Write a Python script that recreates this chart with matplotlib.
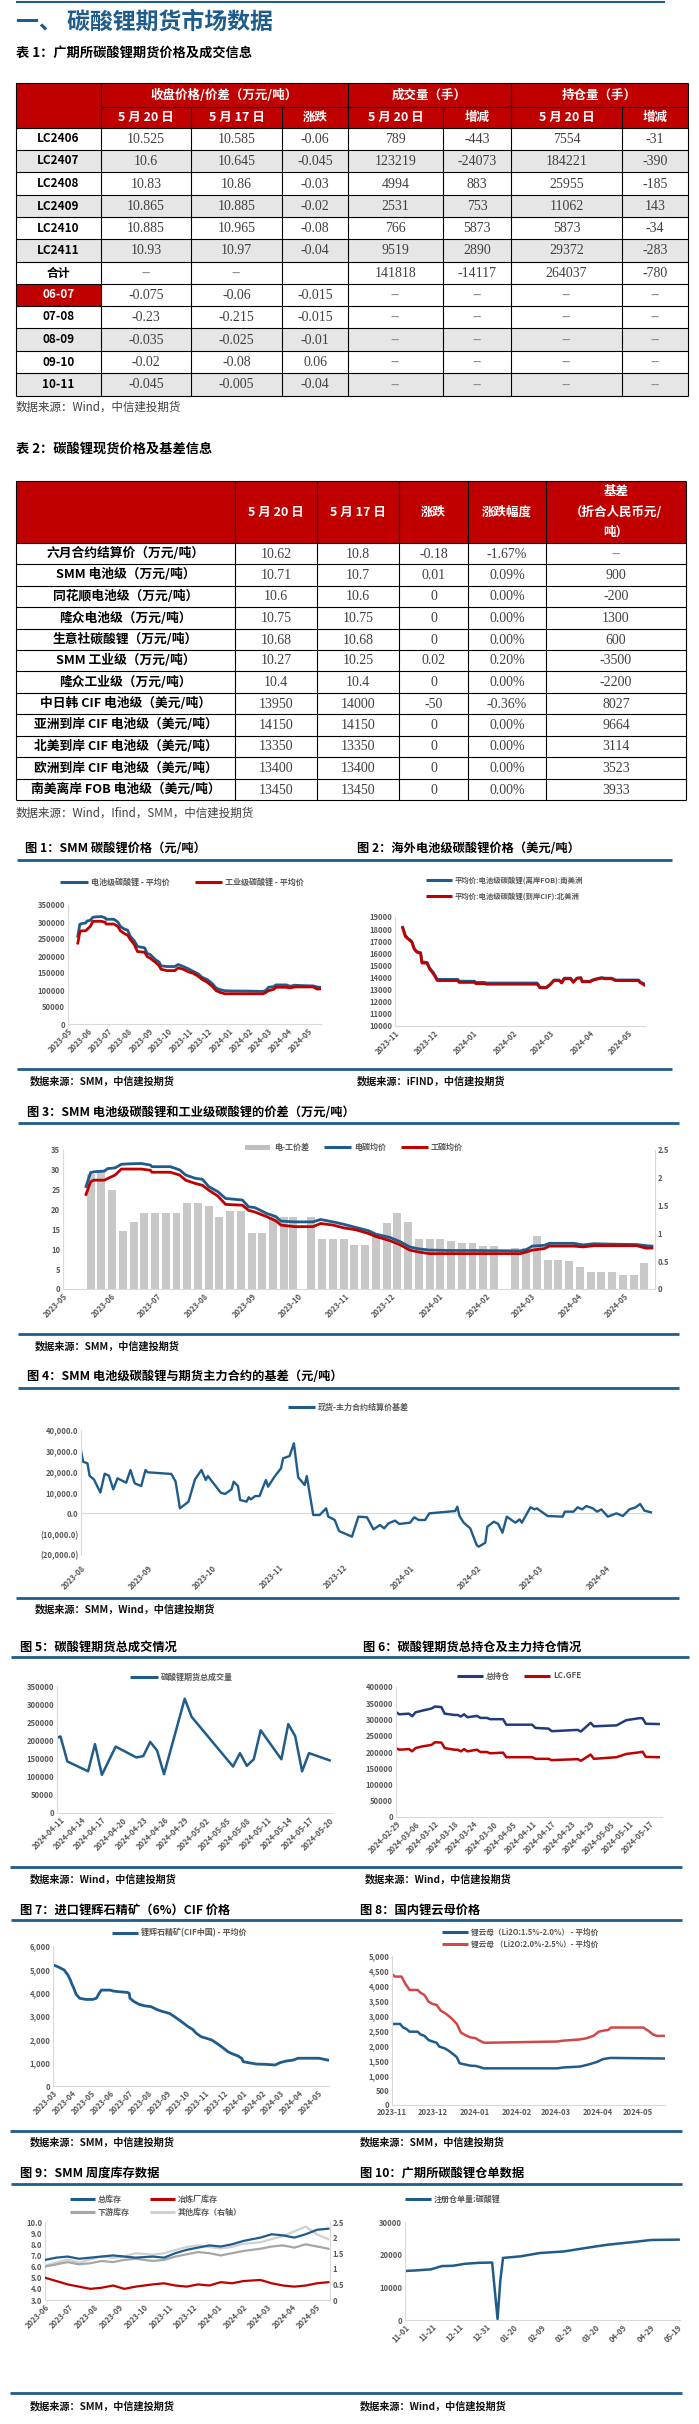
import numpy as np
import matplotlib
matplotlib.use('Agg')
import matplotlib.pyplot as plt
from matplotlib.patches import Rectangle

plt.rcParams['font.family'] = ['Noto Sans CJK SC', 'DejaVu Sans']
plt.rcParams['axes.unicode_minus'] = False

# ---------------------------------------------------------------- data
# Table 1
t1_labels = ['LC2406', 'LC2407', 'LC2408', 'LC2409', 'LC2410', 'LC2411', '合计',
             '06-07', '07-08', '08-09', '09-10', '10-11']
t1_close_0520 = ['10.525', '10.6', '10.83', '10.865', '10.885', '10.93', '--',
                 '-0.075', '-0.23', '-0.035', '-0.02', '-0.045']
t1_close_0517 = ['10.585', '10.645', '10.86', '10.885', '10.965', '10.97', '--',
                 '-0.06', '-0.215', '-0.025', '-0.08', '-0.005']
t1_change = ['-0.06', '-0.045', '-0.03', '-0.02', '-0.08', '-0.04', '',
             '-0.015', '-0.015', '-0.01', '0.06', '-0.04']
t1_volume = ['789', '123219', '4994', '2531', '766', '9519', '141818', '--', '--', '--', '--', '--']
t1_volume_chg = ['-443', '-24073', '883', '753', '5873', '2890', '-14117', '--', '--', '--', '--', '--']
t1_oi = ['7554', '184221', '25955', '11062', '5873', '29372', '264037', '--', '--', '--', '--', '--']
t1_oi_chg = ['-31', '-390', '-185', '143', '-34', '-283', '-780', '--', '--', '--', '--', '--']

# Table 2
t2_labels = ['六月合约结算价（万元/吨）', 'SMM 电池级（万元/吨）', '同花顺电池级（万元/吨）',
             '隆众电池级（万元/吨）', '生意社碳酸锂（万元/吨）', 'SMM 工业级（万元/吨）',
             '隆众工业级（万元/吨）', '中日韩 CIF 电池级（美元/吨）', '亚洲到岸 CIF 电池级（美元/吨）',
             '北美到岸 CIF 电池级（美元/吨）', '欧洲到岸 CIF 电池级（美元/吨）', '南美离岸 FOB 电池级（美元/吨）']
t2_0520 = ['10.62', '10.71', '10.6', '10.75', '10.68', '10.27', '10.4', '13950', '14150', '13350', '13400', '13450']
t2_0517 = ['10.8', '10.7', '10.6', '10.75', '10.68', '10.25', '10.4', '14000', '14150', '13350', '13400', '13450']
t2_change = ['-0.18', '0.01', '0', '0', '0', '0.02', '0', '-50', '0', '0', '0', '0']
t2_pct = ['-1.67%', '0.09%', '0.00%', '0.00%', '0.00%', '0.20%', '0.00%', '-0.36%', '0.00%', '0.00%', '0.00%', '0.00%']
t2_basis = ['--', '900', '-200', '1300', '600', '-3500', '-2200', '8027', '9664', '3114', '3523', '3933']

# Fig 1 / Fig 3: SMM prices (万元/吨)
price_dates = ['2023-05-16', '2023-05-19', '2023-05-21', '2023-05-28', '2023-05-30', '2023-06-04', '2023-06-08',
               '2023-06-12', '2023-06-21', '2023-06-27', '2023-06-28', '2023-07-10', '2023-07-16', '2023-07-20',
               '2023-07-26', '2023-07-31', '2023-08-04', '2023-08-10', '2023-08-15', '2023-08-26', '2023-08-30',
               '2023-09-03', '2023-09-11', '2023-09-17', '2023-09-20', '2023-09-29', '2023-10-11', '2023-10-16',
               '2023-10-24', '2023-10-31', '2023-11-08', '2023-11-16', '2023-11-21', '2023-11-30', '2023-12-07',
               '2023-12-13', '2023-12-19', '2023-12-26', '2024-01-07', '2024-01-24', '2024-02-23', '2024-02-27',
               '2024-03-02', '2024-03-10', '2024-03-13', '2024-03-29', '2024-04-04', '2024-04-11', '2024-04-21',
               '2024-05-09', '2024-05-15', '2024-05-19']
battery_price = [25.8, 29.3, 29.5, 29.7, 30.3, 30.5, 31.4, 31.5, 31.6, 31.2,
                 30.8, 30.8, 30.0, 28.7, 27.9, 27.6, 25.8, 24.5, 22.8, 22.4,
                 20.7, 20.5, 19.0, 18.2, 17.1, 16.9, 16.9, 17.5, 16.9, 16.3,
                 15.5, 14.7, 13.8, 13.0, 11.9, 10.6, 10.1, 9.8, 9.7, 9.7,
                 9.6, 9.9, 10.8, 11.0, 11.5, 11.5, 11.1, 11.4, 11.3, 11.2, 10.9, 10.8]
industrial_price = [23.8, 27.0, 27.4, 27.4, 27.8, 28.7, 30.2, 30.2, 30.2, 29.9,
                    29.4, 29.4, 28.7, 27.4, 26.6, 26.1, 24.9, 23.4, 21.3, 21.1,
                    19.8, 19.4, 18.2, 17.1, 16.1, 15.7, 15.7, 16.5, 16.1, 15.4,
                    14.9, 14.0, 13.2, 12.2, 11.1, 9.8, 9.3, 8.9, 8.9, 8.9,
                    8.9, 9.3, 9.8, 10.2, 10.8, 10.8, 10.6, 10.9, 10.9, 10.9, 10.3, 10.3]
spread_dates = ['2023-05-19', '2023-05-26', '2023-06-02', '2023-06-09', '2023-06-16', '2023-06-23', '2023-06-30',
                '2023-07-07', '2023-07-14', '2023-07-21', '2023-07-28', '2023-08-04', '2023-08-11', '2023-08-18',
                '2023-08-25', '2023-09-01', '2023-09-08', '2023-09-15', '2023-09-22', '2023-09-28', '2023-10-10',
                '2023-10-17', '2023-10-24', '2023-10-31', '2023-11-07', '2023-11-14', '2023-11-21', '2023-11-28',
                '2023-12-05', '2023-12-12', '2023-12-19', '2023-12-26', '2024-01-02', '2024-01-09', '2024-01-16',
                '2024-01-23', '2024-01-30', '2024-02-06', '2024-02-20', '2024-02-27', '2024-03-05', '2024-03-12',
                '2024-03-19', '2024-03-26', '2024-04-02', '2024-04-09', '2024-04-16', '2024-04-23', '2024-04-30',
                '2024-05-07', '2024-05-14']
spread_vals = [2.07, 2.13, 1.78, 1.05, 1.21, 1.36, 1.36, 1.36, 1.36, 1.55,
               1.55, 1.5, 1.3, 1.4, 1.4, 1.0, 1.0, 1.3, 1.3, 1.3,
               1.3, 0.9, 0.9, 0.9, 0.8, 0.8, 0.94, 1.18, 1.36, 1.2,
               0.9, 0.9, 0.9, 0.87, 0.82, 0.82, 0.77, 0.77, 0.74, 0.73,
               0.95, 0.52, 0.52, 0.5, 0.4, 0.31, 0.31, 0.31, 0.25, 0.25, 0.46]

# Fig 2: overseas prices (USD/t)
overseas_dates = ['2023-11-07', '2023-11-09', '2023-11-11', '2023-11-14', '2023-11-16', '2023-11-18', '2023-11-21',
                  '2023-11-22', '2023-11-26', '2023-11-28', '2023-12-01', '2023-12-04', '2023-12-06', '2023-12-20',
                  '2023-12-21', '2024-01-02', '2024-01-03', '2024-01-10', '2024-01-11', '2024-02-20', '2024-02-22',
                  '2024-02-27', '2024-03-01', '2024-03-04', '2024-03-08', '2024-03-10', '2024-03-12', '2024-03-17',
                  '2024-03-19', '2024-03-22', '2024-03-25', '2024-03-26', '2024-04-01', '2024-04-04', '2024-04-10',
                  '2024-04-13', '2024-04-18', '2024-04-21', '2024-05-09', '2024-05-10', '2024-05-14']
fob_south_america = [18150, 17500, 17250, 17000, 16400, 16150, 16050, 15300, 15250, 14800,
                     14400, 13850, 13850, 13850, 13700, 13700, 13600, 13600, 13550, 13550,
                     13200, 13200, 13450, 13800, 13800, 13600, 13950, 13950, 13650, 13950,
                     14000, 13700, 13700, 13850, 14000, 13950, 13950, 13800, 13800, 13650, 13450]
cif_north_america = [18100, 17400, 17200, 16950, 16350, 16100, 16000, 15200, 15200, 14700,
                     14300, 13750, 13750, 13750, 13600, 13600, 13500, 13500, 13450, 13450,
                     13150, 13150, 13400, 13750, 13750, 13550, 13900, 13900, 13600, 13950,
                     13950, 13650, 13650, 13800, 13950, 13900, 13900, 13750, 13750, 13600, 13350]

# Fig 4: basis (days after 2023-08-01)
basis_start = '2023-08-01'
basis_day = [0, 1, 3, 4, 6, 9, 11, 13, 15, 17, 21, 23, 25, 28, 30, 31, 42, 44, 46, 50,
             53, 56, 58, 59, 65, 67, 70, 71, 73, 74, 77, 78, 79, 81, 83, 86, 87, 90, 93, 94,
             97, 99, 101, 104, 105, 108, 111, 114, 115, 118, 120, 126, 129, 133, 136, 139, 141, 143, 146, 148,
             153, 155, 157, 160, 162, 174, 175, 176, 178, 181, 184, 185, 188, 189, 192, 194, 196, 198, 202, 204,
             205, 209, 211, 212, 217, 224, 225, 229, 231, 233, 235, 238, 240, 242, 245, 249, 252, 255, 258, 260,
             262, 265]
basis_val = [30000, 24800, 24000, 18000, 16300, 10000, 19000, 18000, 11500, 16800,
             14700, 20800, 14400, 13100, 20800, 19700, 18900, 15200, 2400, 5600,
             16300, 20800, 16000, 17900, 9900, 9300, 11500, 15200, 13100, 6400,
             5600, 7700, 6700, 8300, 8300, 16000, 12800, 17600, 21600, 26400,
             27500, 33600, 17300, 13600, 17900, -800, -800, 2400, -1600, -3200,
             -8500, -11200, -1600, -1900, -7700, -5600, -7200, -4800, -3500, -5100,
             -4500, -1900, -3200, -3200, 0, 1100, 3200, -1300, -4500, -7200,
             -15200, -16000, -14100, -6400, -4000, -5100, -9300, -1600, -4500, -2900,
             -4500, 2900, 1900, 2400, -1300, -1600, 800, 800, 2900, 1900,
             3500, 2400, 800, 1900, -1600, 0, -1300, 1900, 2900, 4500, 1300, 500]

# Fig 5: total volume
vol_dates = ['2024-04-10', '2024-04-11', '2024-04-12', '2024-04-15', '2024-04-16', '2024-04-17', '2024-04-18',
             '2024-04-19', '2024-04-22', '2024-04-23', '2024-04-24', '2024-04-25', '2024-04-26', '2024-04-29',
             '2024-04-30', '2024-05-06', '2024-05-07', '2024-05-08', '2024-05-09', '2024-05-10', '2024-05-13',
             '2024-05-14', '2024-05-15', '2024-05-16', '2024-05-17', '2024-05-20']
vol_vals = [203000, 211000, 142000, 115000, 190000, 105000, 144000, 183000, 153000, 157000,
            196000, 172000, 107000, 315000, 265000, 128000, 165000, 130000, 148000, 228000,
            148000, 245000, 212000, 115000, 165000, 145000]

# Fig 6: open interest
oi_dates = ['2024-02-29', '2024-03-01', '2024-03-04', '2024-03-05', '2024-03-06', '2024-03-08', '2024-03-11',
            '2024-03-12', '2024-03-14', '2024-03-15', '2024-03-18', '2024-03-19', '2024-03-20', '2024-03-21',
            '2024-03-22', '2024-03-25', '2024-03-26', '2024-03-28', '2024-03-29', '2024-04-02', '2024-04-03',
            '2024-04-11', '2024-04-12', '2024-04-16', '2024-04-17', '2024-04-25', '2024-04-26', '2024-04-29',
            '2024-04-30', '2024-05-07', '2024-05-10', '2024-05-14', '2024-05-15', '2024-05-16', '2024-05-20']
oi_total = [323000, 316000, 318000, 310000, 322000, 327000, 334000, 340000, 338000, 318000,
            314000, 314000, 309000, 316000, 307000, 311000, 305000, 305000, 301000, 301000,
            284000, 284000, 274000, 272000, 264000, 268000, 263000, 290000, 279000, 282000,
            298000, 304000, 304000, 287000, 286000]
oi_main = [212000, 207000, 209000, 202000, 212000, 217000, 222000, 230000, 229000, 212000,
           207000, 207000, 202000, 209000, 202000, 207000, 200000, 200000, 196000, 198000,
           184000, 184000, 179000, 179000, 175000, 178000, 173000, 192000, 179000, 184000,
           194000, 199000, 201000, 185000, 184000]

# Fig 7: spodumene CIF
spod_dates = ['2023-03-01', '2023-03-09', '2023-03-19', '2023-03-25', '2023-03-29', '2023-04-01', '2023-04-03',
              '2023-04-07', '2023-04-13', '2023-04-23', '2023-05-04', '2023-05-10', '2023-05-15', '2023-05-18',
              '2023-06-01', '2023-06-06', '2023-06-16', '2023-06-29', '2023-07-02', '2023-07-03', '2023-07-10',
              '2023-07-18', '2023-07-26', '2023-08-06', '2023-08-17', '2023-08-25', '2023-09-05', '2023-09-13',
              '2023-09-24', '2023-10-05', '2023-10-12', '2023-10-18', '2023-10-26', '2023-11-04', '2023-11-12',
              '2023-11-20', '2023-11-29', '2023-12-08', '2023-12-16', '2023-12-24', '2023-12-30', '2024-01-02',
              '2024-01-10', '2024-01-23', '2024-02-06', '2024-02-22', '2024-03-01', '2024-03-11', '2024-03-22',
              '2024-03-30', '2024-04-12', '2024-05-03', '2024-05-17']
spod_vals = [5190, 5110, 4970, 4760, 4540, 4330, 4230, 3940, 3760, 3710,
             3710, 3760, 4000, 4110, 4110, 4070, 4040, 4010, 3970, 3760,
             3610, 3500, 3440, 3400, 3260, 3190, 3110, 2970, 2760, 2540,
             2430, 2260, 2110, 2040, 1970, 1830, 1660, 1470, 1370, 1290,
             1190, 1040, 1000, 940, 930, 900, 1000, 1070, 1110, 1190,
             1190, 1190, 1110]

# Fig 8: lepidolite
lep_low_dates = ['2023-11-01', '2023-11-07', '2023-11-09', '2023-11-12', '2023-11-14', '2023-11-20', '2023-11-22',
                 '2023-11-25', '2023-11-28', '2023-12-01', '2023-12-04', '2023-12-06', '2023-12-10', '2023-12-13',
                 '2023-12-17', '2023-12-19', '2023-12-21', '2023-12-25', '2023-12-29', '2024-01-02', '2024-01-06',
                 '2024-01-08', '2024-03-02', '2024-03-07', '2024-03-19', '2024-03-22', '2024-03-27', '2024-04-01',
                 '2024-04-05', '2024-04-09', '2024-04-11', '2024-05-21']
lep_low_vals = [2720, 2720, 2610, 2540, 2460, 2460, 2370, 2320, 2180, 2130,
                2090, 1960, 1900, 1820, 1680, 1600, 1400, 1360, 1320, 1310,
                1260, 1230, 1230, 1260, 1290, 1320, 1380, 1450, 1540, 1570, 1580, 1560]
lep_high_dates = ['2023-11-01', '2023-11-03', '2023-11-08', '2023-11-11', '2023-11-14', '2023-11-20', '2023-11-22',
                  '2023-11-25', '2023-11-28', '2023-12-01', '2023-12-04', '2023-12-07', '2023-12-11', '2023-12-15',
                  '2023-12-19', '2023-12-22', '2023-12-25', '2023-12-29', '2024-01-02', '2024-01-04', '2024-01-08',
                  '2024-01-11', '2024-03-02', '2024-03-07', '2024-03-19', '2024-03-24', '2024-03-29', '2024-04-02',
                  '2024-04-06', '2024-04-09', '2024-04-11', '2024-05-05', '2024-05-09', '2024-05-12', '2024-05-15',
                  '2024-05-21']
lep_high_vals = [4400, 4310, 4310, 4060, 3860, 3860, 3770, 3690, 3470, 3390,
                 3360, 3170, 3060, 2910, 2720, 2430, 2350, 2270, 2240, 2180,
                 2090, 2090, 2130, 2160, 2200, 2240, 2320, 2460, 2500, 2520,
                 2600, 2600, 2480, 2370, 2320, 2320]

# Fig 9: SMM weekly inventory (万吨)
inv_dates = ['2023-06-01', '2023-06-15', '2023-06-29', '2023-07-13', '2023-07-27', '2023-08-10', '2023-08-24',
             '2023-09-07', '2023-09-21', '2023-10-12', '2023-10-26', '2023-11-09', '2023-11-23', '2023-12-07',
             '2023-12-21', '2024-01-04', '2024-01-18', '2024-02-01', '2024-02-22', '2024-03-07', '2024-03-21',
             '2024-04-04', '2024-04-18', '2024-05-02', '2024-05-16']
inv_total = [6.6, 6.8, 6.9, 6.7, 6.8, 6.9, 7.0, 6.9, 6.8, 6.9, 6.8, 7.2, 7.5, 7.7, 7.9,
             7.8, 8.0, 8.3, 8.6, 8.9, 8.8, 8.6, 8.9, 9.3, 9.4]
inv_smelter = [5.0, 4.7, 4.4, 4.2, 4.0, 4.1, 4.3, 4.0, 4.2, 4.4, 4.5, 4.3, 4.2, 4.4, 4.3,
               4.6, 4.5, 4.7, 4.8, 4.5, 4.3, 4.2, 4.3, 4.5, 4.6]
inv_downstream = [6.0, 6.2, 6.4, 6.2, 6.3, 6.5, 6.4, 6.6, 6.7, 6.5, 6.6, 6.9, 7.1, 7.3, 7.2,
                  7.0, 7.2, 7.4, 7.6, 7.8, 7.9, 7.7, 8.0, 7.8, 7.6]
inv_other = [1.1, 1.2, 1.3, 1.2, 1.3, 1.4, 1.35, 1.4, 1.5, 1.45, 1.5, 1.6, 1.7, 1.75, 1.7,
             1.65, 1.7, 1.8, 1.85, 1.95, 2.05, 2.2, 2.35, 2.1, 1.95]

# Fig 10: registered warrants
wr_dates = ['2023-11-01', '2023-11-10', '2023-11-20', '2023-11-28', '2023-12-06', '2023-12-15', '2023-12-25',
            '2024-01-04', '2024-01-08', '2024-01-10', '2024-01-12', '2024-01-25', '2024-02-08', '2024-02-26',
            '2024-03-12', '2024-03-28', '2024-04-15', '2024-04-30', '2024-05-20']
wr_vals = [15000, 15200, 15500, 16500, 16600, 17200, 17500, 17600, 300, 12000, 19000, 19500, 20500,
           21000, 22000, 23000, 23800, 24500, 24600]

# ---------------------------------------------------------------- style
W, H = 699, 2424
RED = '#C00000'
BLUE = '#1F5C8B'
NAVY = '#203C7C'
TITLE_BLUE = '#1F5C8B'
GRAYFILL = '#E7E6E6'
TICKC = '#595959'
NUMFONT = ['Liberation Serif', 'DejaVu Serif']

fig = plt.figure(figsize=(W / 100, H / 100), dpi=100)
bg = fig.add_axes([0, 0, 1, 1])
bg.set_xlim(0, W)
bg.set_ylim(H, 0)
bg.axis('off')


def D(lst):
    return np.array(lst, dtype='datetime64[D]')


def add_ax(x0, y0, x1, y1):
    return fig.add_axes([x0 / W, 1 - y1 / H, (x1 - x0) / W, (y1 - y0) / H])


def T(x, y, s, size=8, weight='normal', color='black', ha='left', family=None, va='center'):
    kw = {}
    if family is not None:
        kw['family'] = family
    bg.text(x, y, s, fontsize=size, fontweight=weight, color=color, ha=ha, va=va, **kw)


def hl(x0, x1, y, c='black', lw=0.8):
    bg.plot([x0, x1], [y, y], color=c, lw=lw, solid_capstyle='butt')


def vl(x, y0, y1, c='black', lw=0.8):
    bg.plot([x, x], [y0, y1], color=c, lw=lw, solid_capstyle='butt')


def style_ax(ax, right=False, bottom=True, left=True):
    ax.spines['top'].set_visible(False)
    ax.spines['right'].set_visible(right)
    ax.spines['left'].set_visible(left)
    ax.spines['bottom'].set_visible(bottom)
    for s in ax.spines.values():
        s.set_color('#D9D9D9')
        s.set_linewidth(0.8)
    ax.tick_params(length=0, labelsize=5.5, labelcolor=TICKC, pad=2)
    ax.patch.set_alpha(0)


def bold_ticks(ax):
    for lab in ax.get_xticklabels() + ax.get_yticklabels():
        lab.set_fontweight('bold')


def set_date_ticks(ax, ticks, unit, rot=45):
    ticks = np.array(ticks, dtype='datetime64[D]')
    if unit == 'M':
        labels = [str(t)[:7] for t in ticks]
    elif unit == 'md':
        labels = [str(t)[5:10] for t in ticks]
    else:
        labels = [str(t)[:10] for t in ticks]
    ax.set_xticks(ticks)
    if rot:
        ax.set_xticklabels(labels, rotation=rot, ha='right', rotation_mode='anchor')
    else:
        ax.set_xticklabels(labels)


def months(a, b):
    return np.arange(np.datetime64(a), np.datetime64(b), dtype='datetime64[M]').astype('datetime64[D]')


def legend_line(x0, x1, y, color, text, lw=2.2, size=5.8):
    bg.plot([x0, x1], [y, y], color=color, lw=lw, solid_capstyle='butt')
    T(x1 + 3, y, text, size=size, weight='bold', color=TICKC)


def fig_title(x, y, s):
    T(x, y, s, size=8.8, weight='bold')


def source(x, y, s):
    T(x, y, s, size=7.3, weight='bold', color='#111111')


# ---------------------------------------------------------------- header
hl(16, 665, 1.5, c=TITLE_BLUE, lw=1.5)
T(16, 22, '一、 碳酸锂期货市场数据', size=16.5, weight='bold', color=TITLE_BLUE)

# ---------------------------------------------------------------- table 1
T(16, 53, '表 1：广期所碳酸锂期货价格及成交信息', size=9.5, weight='bold')
c = [16, 101, 191, 282, 348, 443, 511, 622, 688]
r = [83, 107, 128, 150, 172, 195, 217, 239, 262, 284, 306, 328, 351, 373, 396]
t1_shade = [False, True, False, True, False, True, False, False, False, True, False, True]
bg.add_patch(Rectangle((c[0], r[0]), c[-1] - c[0], r[2] - r[0], color=RED, lw=0))
for i, sh in enumerate(t1_shade):
    if sh:
        bg.add_patch(Rectangle((c[0], r[2 + i]), c[-1] - c[0], r[3 + i] - r[2 + i], color=GRAYFILL, lw=0))
k = t1_labels.index('06-07')
bg.add_patch(Rectangle((c[0], r[2 + k]), c[1] - c[0], r[3 + k] - r[2 + k], color=RED, lw=0))
for y in r[2:]:
    hl(c[0], c[-1], y)
hl(c[0], c[-1], r[0])
hl(c[1], c[-1], r[1])
for x in [c[0], c[1], c[4], c[6], c[-1]]:
    vl(x, r[0], r[-1])
for x in [c[2], c[3], c[5], c[7]]:
    vl(x, r[1], r[-1])
yh0 = (r[0] + r[1]) / 2
yh1 = (r[1] + r[2]) / 2
T((c[1] + c[4]) / 2, yh0, '收盘价格/价差（万元/吨）', size=9, weight='bold', color='white', ha='center')
T((c[4] + c[6]) / 2, yh0, '成交量（手）', size=9, weight='bold', color='white', ha='center')
T((c[6] + c[8]) / 2, yh0, '持仓量（手）', size=9, weight='bold', color='white', ha='center')
for j, s in enumerate(['5 月 20 日', '5 月 17 日', '涨跌', '5 月 20 日', '增减', '5 月 20 日', '增减']):
    T((c[1 + j] + c[2 + j]) / 2, yh1, s, size=9, weight='bold', color='white', ha='center')
cols_t1 = [t1_close_0520, t1_close_0517, t1_change, t1_volume, t1_volume_chg, t1_oi, t1_oi_chg]
for i, lab in enumerate(t1_labels):
    yc = (r[2 + i] + r[3 + i]) / 2
    T((c[0] + c[1]) / 2, yc, lab, size=8.5, weight='bold',
      color='white' if lab == '06-07' else 'black', ha='center')
    for j, col in enumerate(cols_t1):
        s = col[i]
        if s:
            T((c[1 + j] + c[2 + j]) / 2, yc + 0.5, s, size=10,
              color='#8C8C8C' if s == '--' else '#404040', ha='center', family=NUMFONT)
T(16, 407, '数据来源：Wind，中信建投期货', size=8.3, color='#404040')

# ---------------------------------------------------------------- table 2
T(16, 449, '表 2：碳酸锂现货价格及基差信息', size=9.5, weight='bold')
c2 = [16, 235, 317, 399, 468, 546, 686]
r2 = [481, 543, 564, 586, 607, 629, 650, 671, 693, 714, 736, 757, 779, 800]
bg.add_patch(Rectangle((c2[0], r2[0]), c2[-1] - c2[0], r2[1] - r2[0], color=RED, lw=0))
for y in r2:
    hl(c2[0], c2[-1], y)
for x in c2:
    vl(x, r2[0], r2[-1])
yh = (r2[0] + r2[1]) / 2
for j, s in enumerate(['5 月 20 日', '5 月 17 日', '涨跌', '涨跌幅度']):
    T((c2[1 + j] + c2[2 + j]) / 2, yh, s, size=9, weight='bold', color='white', ha='center')
xb = (c2[5] + c2[6]) / 2
T(xb, 491, '基差', size=9, weight='bold', color='white', ha='center')
T(xb, 512, '（折合人民币元/', size=9, weight='bold', color='white', ha='center')
T(xb, 532, '吨）', size=9, weight='bold', color='white', ha='center')
cols_t2 = [t2_0520, t2_0517, t2_change, t2_pct, t2_basis]
for i, lab in enumerate(t2_labels):
    yc = (r2[1 + i] + r2[2 + i]) / 2
    T((c2[0] + c2[1]) / 2, yc, lab, size=9.2, weight='bold', ha='center')
    for j, col in enumerate(cols_t2):
        s = col[i]
        T((c2[1 + j] + c2[2 + j]) / 2, yc + 0.5, s, size=10,
          color='#8C8C8C' if s == '--' else '#404040', ha='center', family=NUMFONT)
T(16, 813, '数据来源：Wind，Ifind，SMM，中信建投期货', size=8.3, color='#404040')

# ---------------------------------------------------------------- fig 1 & 2
fig_title(25, 849, '图 1：SMM 碳酸锂价格（元/吨）')
fig_title(357, 849, '图 2：海外电池级碳酸锂价格（美元/吨）')
hl(17, 672, 860, c=TITLE_BLUE, lw=2)
hl(17, 672, 1069, c=TITLE_BLUE, lw=2)
source(30, 1081, '数据来源：SMM，中信建投期货')
source(357, 1081, '数据来源：iFIND，中信建投期货')

legend_line(60, 88, 882, BLUE, '电池级碳酸锂 - 平均价')
legend_line(195, 222, 882, RED, '工业级碳酸锂 - 平均价')
ax1 = add_ax(68, 905, 321, 1024)
pdates = D(price_dates)
ax1.plot(pdates, np.array(battery_price) * 10000, color=BLUE, lw=2.0)
ax1.plot(pdates, np.array(industrial_price) * 10000, color=RED, lw=2.0)
ax1.set_ylim(0, 350000)
ax1.set_yticks(np.arange(0, 350001, 50000))
ax1.set_xlim(np.datetime64('2023-05-01'), np.datetime64('2024-05-21'))
set_date_ticks(ax1, months('2023-05', '2024-06'), 'M')
style_ax(ax1)
bold_ticks(ax1)

legend_line(426, 452, 880, BLUE, '平均价:电池级碳酸锂(离岸FOB):南美洲', size=5.3)
legend_line(426, 452, 896, RED, '平均价:电池级碳酸锂(到岸CIF):北美洲', size=5.3)
ax2 = add_ax(395, 917, 645, 1026)
odates = D(overseas_dates)
ax2.plot(odates, fob_south_america, color=BLUE, lw=2.0)
ax2.plot(odates, cif_north_america, color=RED, lw=2.0)
ax2.set_ylim(10000, 19000)
ax2.set_yticks(np.arange(10000, 19001, 1000))
ax2.set_xlim(np.datetime64('2023-11-01'), np.datetime64('2024-05-14'))
set_date_ticks(ax2, months('2023-11', '2024-06'), 'M')
style_ax(ax2)
bold_ticks(ax2)

# ---------------------------------------------------------------- fig 3
fig_title(27, 1113, '图 3：SMM 电池级碳酸锂和工业级碳酸锂的价差（万元/吨）')
hl(18, 679, 1123, c=TITLE_BLUE, lw=2)
hl(18, 679, 1334, c=TITLE_BLUE, lw=2)
source(35, 1346, '数据来源：SMM，中信建投期货')
bg.add_patch(Rectangle((245, 1144.5), 25, 5, color='#BFBFBF', lw=0))
T(274, 1147, '电-工价差', size=5.8, weight='bold', color=TICKC)
legend_line(324, 351, 1147, BLUE, '电碳均价')
legend_line(401, 428, 1147, RED, '工碳均价')
ax3b = add_ax(63, 1150, 655, 1289)
ax3b.bar(D(spread_dates), spread_vals, width=5.2, color='#C8C8C8', lw=0)
ax3b.set_ylim(0, 2.5)
ax3b.set_yticks([0, 0.5, 1, 1.5, 2, 2.5])
ax3b.set_yticklabels(['0', '0.5', '1', '1.5', '2', '2.5'])
ax3b.yaxis.tick_right()
xl3 = (np.datetime64('2023-05-01'), np.datetime64('2024-05-21'))
ax3b.set_xlim(*xl3)
set_date_ticks(ax3b, months('2023-05', '2024-06'), 'M')
style_ax(ax3b, right=True)
bold_ticks(ax3b)
ax3l = add_ax(63, 1150, 655, 1289)
ax3l.plot(pdates, battery_price, color=BLUE, lw=2.0)
ax3l.plot(pdates, industrial_price, color=RED, lw=2.0)
ax3l.set_ylim(0, 35)
ax3l.set_yticks(np.arange(0, 36, 5))
ax3l.set_xlim(*xl3)
ax3l.set_xticks([])
style_ax(ax3l, bottom=False, left=False)
bold_ticks(ax3l)

# ---------------------------------------------------------------- fig 4
fig_title(27, 1376, '图 4：SMM 电池级碳酸锂与期货主力合约的基差（元/吨）')
hl(18, 679, 1388, c=TITLE_BLUE, lw=2)
hl(16, 679, 1598, c=TITLE_BLUE, lw=2)
source(35, 1609, '数据来源：SMM，Wind，中信建投期货')
legend_line(288, 315, 1407, BLUE, '现货-主力合约结算价基差')
ax4 = add_ax(81, 1430, 653, 1555)
bdates = np.datetime64(basis_start) + np.array(basis_day).astype('timedelta64[D]')
ax4.axhline(0, color='#D9D9D9', lw=0.8)
ax4.plot(bdates, basis_val, color=BLUE, lw=1.7)
ax4.set_ylim(-20000, 40000)
yt4 = np.arange(-20000, 40001, 10000)
ax4.set_yticks(yt4)
ax4.set_yticklabels([('(%s)' % format(abs(v), ',.1f')) if v < 0 else format(v, ',.1f') for v in yt4])
for lab, v in zip(ax4.get_yticklabels(), yt4):
    if v < 0:
        lab.set_color('red')
ax4.set_xlim(np.datetime64('2023-08-01'), bdates[-1] + np.timedelta64(1, 'D'))
set_date_ticks(ax4, months('2023-08', '2024-05'), 'M')
style_ax(ax4, bottom=False)
ax4.tick_params(axis='x', pad=6)
bold_ticks(ax4)

# ---------------------------------------------------------------- fig 5 & 6
fig_title(20, 1647, '图 5：碳酸锂期货总成交情况')
fig_title(363, 1647, '图 6：碳酸锂期货总持仓及主力持仓情况')
hl(11, 689, 1657, c=TITLE_BLUE, lw=2)
hl(10, 682, 1867, c=TITLE_BLUE, lw=2)
source(30, 1879, '数据来源：Wind，中信建投期货')
source(365, 1879, '数据来源：Wind，中信建投期货')

legend_line(130, 158, 1677, BLUE, '碳酸锂期货总成交量')
ax5 = add_ax(57, 1686, 332, 1813)
ax5.plot(D(vol_dates), vol_vals, color=BLUE, lw=1.8)
ax5.set_ylim(0, 350000)
ax5.set_yticks(np.arange(0, 350001, 50000))
ax5.set_xlim(np.datetime64('2024-04-10T12:00'), np.datetime64('2024-05-20T08:00'))
set_date_ticks(ax5, np.arange(np.datetime64('2024-04-11'), np.datetime64('2024-05-21'), 3), 'D')
style_ax(ax5)
bold_ticks(ax5)

legend_line(457, 483, 1676, NAVY, '总持仓')
legend_line(524, 550, 1676, RED, 'LC.GFE')
ax6 = add_ax(396, 1687, 662, 1817)
od6 = D(oi_dates)
ax6.plot(od6, oi_total, color=NAVY, lw=1.8)
ax6.plot(od6, oi_main, color=RED, lw=1.8)
ax6.set_ylim(0, 400000)
ax6.set_yticks(np.arange(0, 400001, 50000))
ax6.set_xlim(np.datetime64('2024-02-29'), np.datetime64('2024-05-21'))
set_date_ticks(ax6, np.arange(np.datetime64('2024-02-29'), np.datetime64('2024-05-20'), 6), 'D')
style_ax(ax6)
bold_ticks(ax6)

# ---------------------------------------------------------------- fig 7 & 8
fig_title(20, 1910, '图 7：进口锂辉石精矿（6%）CIF 价格')
fig_title(360, 1910, '图 8：国内锂云母价格')
hl(11, 682, 1920, c=TITLE_BLUE, lw=2)
hl(10, 682, 2131, c=TITLE_BLUE, lw=2)
source(30, 2142, '数据来源：SMM，中信建投期货')
source(360, 2142, '数据来源：SMM，中信建投期货')

legend_line(112, 138, 1933, BLUE, '锂辉石精矿(CIF中国) - 平均价')
ax7 = add_ax(53, 1946, 329, 2086)
ax7.plot(D(spod_dates), spod_vals, color=BLUE, lw=2.0)
ax7.set_ylim(0, 6000)
yt7 = np.arange(0, 6001, 1000)
ax7.set_yticks(yt7)
ax7.set_yticklabels([format(v, ',') for v in yt7])
ax7.set_xlim(np.datetime64('2023-03-01'), np.datetime64('2024-05-19'))
set_date_ticks(ax7, months('2023-03', '2024-06'), 'M')
style_ax(ax7)
bold_ticks(ax7)

legend_line(442, 468, 1932, BLUE, '锂云母（Li2O:1.5%-2.0%） - 平均价', size=5.5)
legend_line(442, 468, 1944, '#D04848', '锂云母 （Li2O:2.0%-2.5%）- 平均价', size=5.5)
ax8 = add_ax(392, 1956, 665, 2105)
ax8.plot(D(lep_low_dates), lep_low_vals, color=BLUE, lw=1.8)
ax8.plot(D(lep_high_dates), lep_high_vals, color='#D04848', lw=1.8)
ax8.set_ylim(0, 5000)
yt8 = np.arange(0, 5001, 500)
ax8.set_yticks(yt8)
ax8.set_yticklabels([format(v, ',') for v in yt8])
ax8.set_xlim(np.datetime64('2023-11-01'), np.datetime64('2024-05-21'))
set_date_ticks(ax8, months('2023-11', '2024-06'), 'M', rot=0)
style_ax(ax8)
bold_ticks(ax8)

# ---------------------------------------------------------------- fig 9 & 10
fig_title(20, 2173, '图 9：SMM 周度库存数据')
fig_title(360, 2173, '图 10：广期所碳酸锂仓单数据')
hl(11, 682, 2184, c=TITLE_BLUE, lw=2)
hl(10, 682, 2393, c=TITLE_BLUE, lw=2)
source(30, 2406, '数据来源：SMM，中信建投期货')
source(360, 2406, '数据来源：Wind，中信建投期货')

legend_line(70, 95, 2199, BLUE, '总库存')
legend_line(150, 175, 2199, RED, '冶炼厂库存')
legend_line(70, 95, 2212, '#A6A6A6', '下游库存')
legend_line(150, 175, 2212, '#D0D0D0', '其他库存（右轴）')
idates = D(inv_dates)
xl9 = (np.datetime64('2023-06-01'), np.datetime64('2024-05-18'))
ax9r = add_ax(45, 2222, 330, 2300)
ax9r.plot(idates, inv_other, color='#D0D0D0', lw=1.6)
ax9r.set_ylim(0, 2.5)
ax9r.set_yticks([0, 0.5, 1, 1.5, 2, 2.5])
ax9r.set_yticklabels(['0', '0.5', '1', '1.5', '2', '2.5'])
ax9r.yaxis.tick_right()
ax9r.set_xlim(*xl9)
set_date_ticks(ax9r, months('2023-06', '2024-06'), 'M')
style_ax(ax9r, right=True)
bold_ticks(ax9r)
ax9 = add_ax(45, 2222, 330, 2300)
ax9.plot(idates, inv_downstream, color='#A6A6A6', lw=1.6)
ax9.plot(idates, inv_smelter, color=RED, lw=1.6)
ax9.plot(idates, inv_total, color=BLUE, lw=1.6)
ax9.set_ylim(3, 10)
yt9 = np.arange(3, 10.01, 1.0)
ax9.set_yticks(yt9)
ax9.set_yticklabels(['%.1f' % v for v in yt9])
ax9.set_xlim(*xl9)
ax9.set_xticks([])
style_ax(ax9, bottom=False, left=False)
bold_ticks(ax9)

legend_line(405, 431, 2199, BLUE, '注册仓单量:碳酸锂')
ax10 = add_ax(405, 2222, 680, 2320)
ax10.plot(D(wr_dates), wr_vals, color=BLUE, lw=1.8)
ax10.set_ylim(0, 30000)
ax10.set_yticks(np.arange(0, 30001, 10000))
ax10.set_xlim(np.datetime64('2023-11-01'), np.datetime64('2024-05-21'))
set_date_ticks(ax10, np.arange(np.datetime64('2023-11-01'), np.datetime64('2024-05-21'), 20), 'md')
style_ax(ax10)
bold_ticks(ax10)

fig.savefig('out.png', dpi=100)
